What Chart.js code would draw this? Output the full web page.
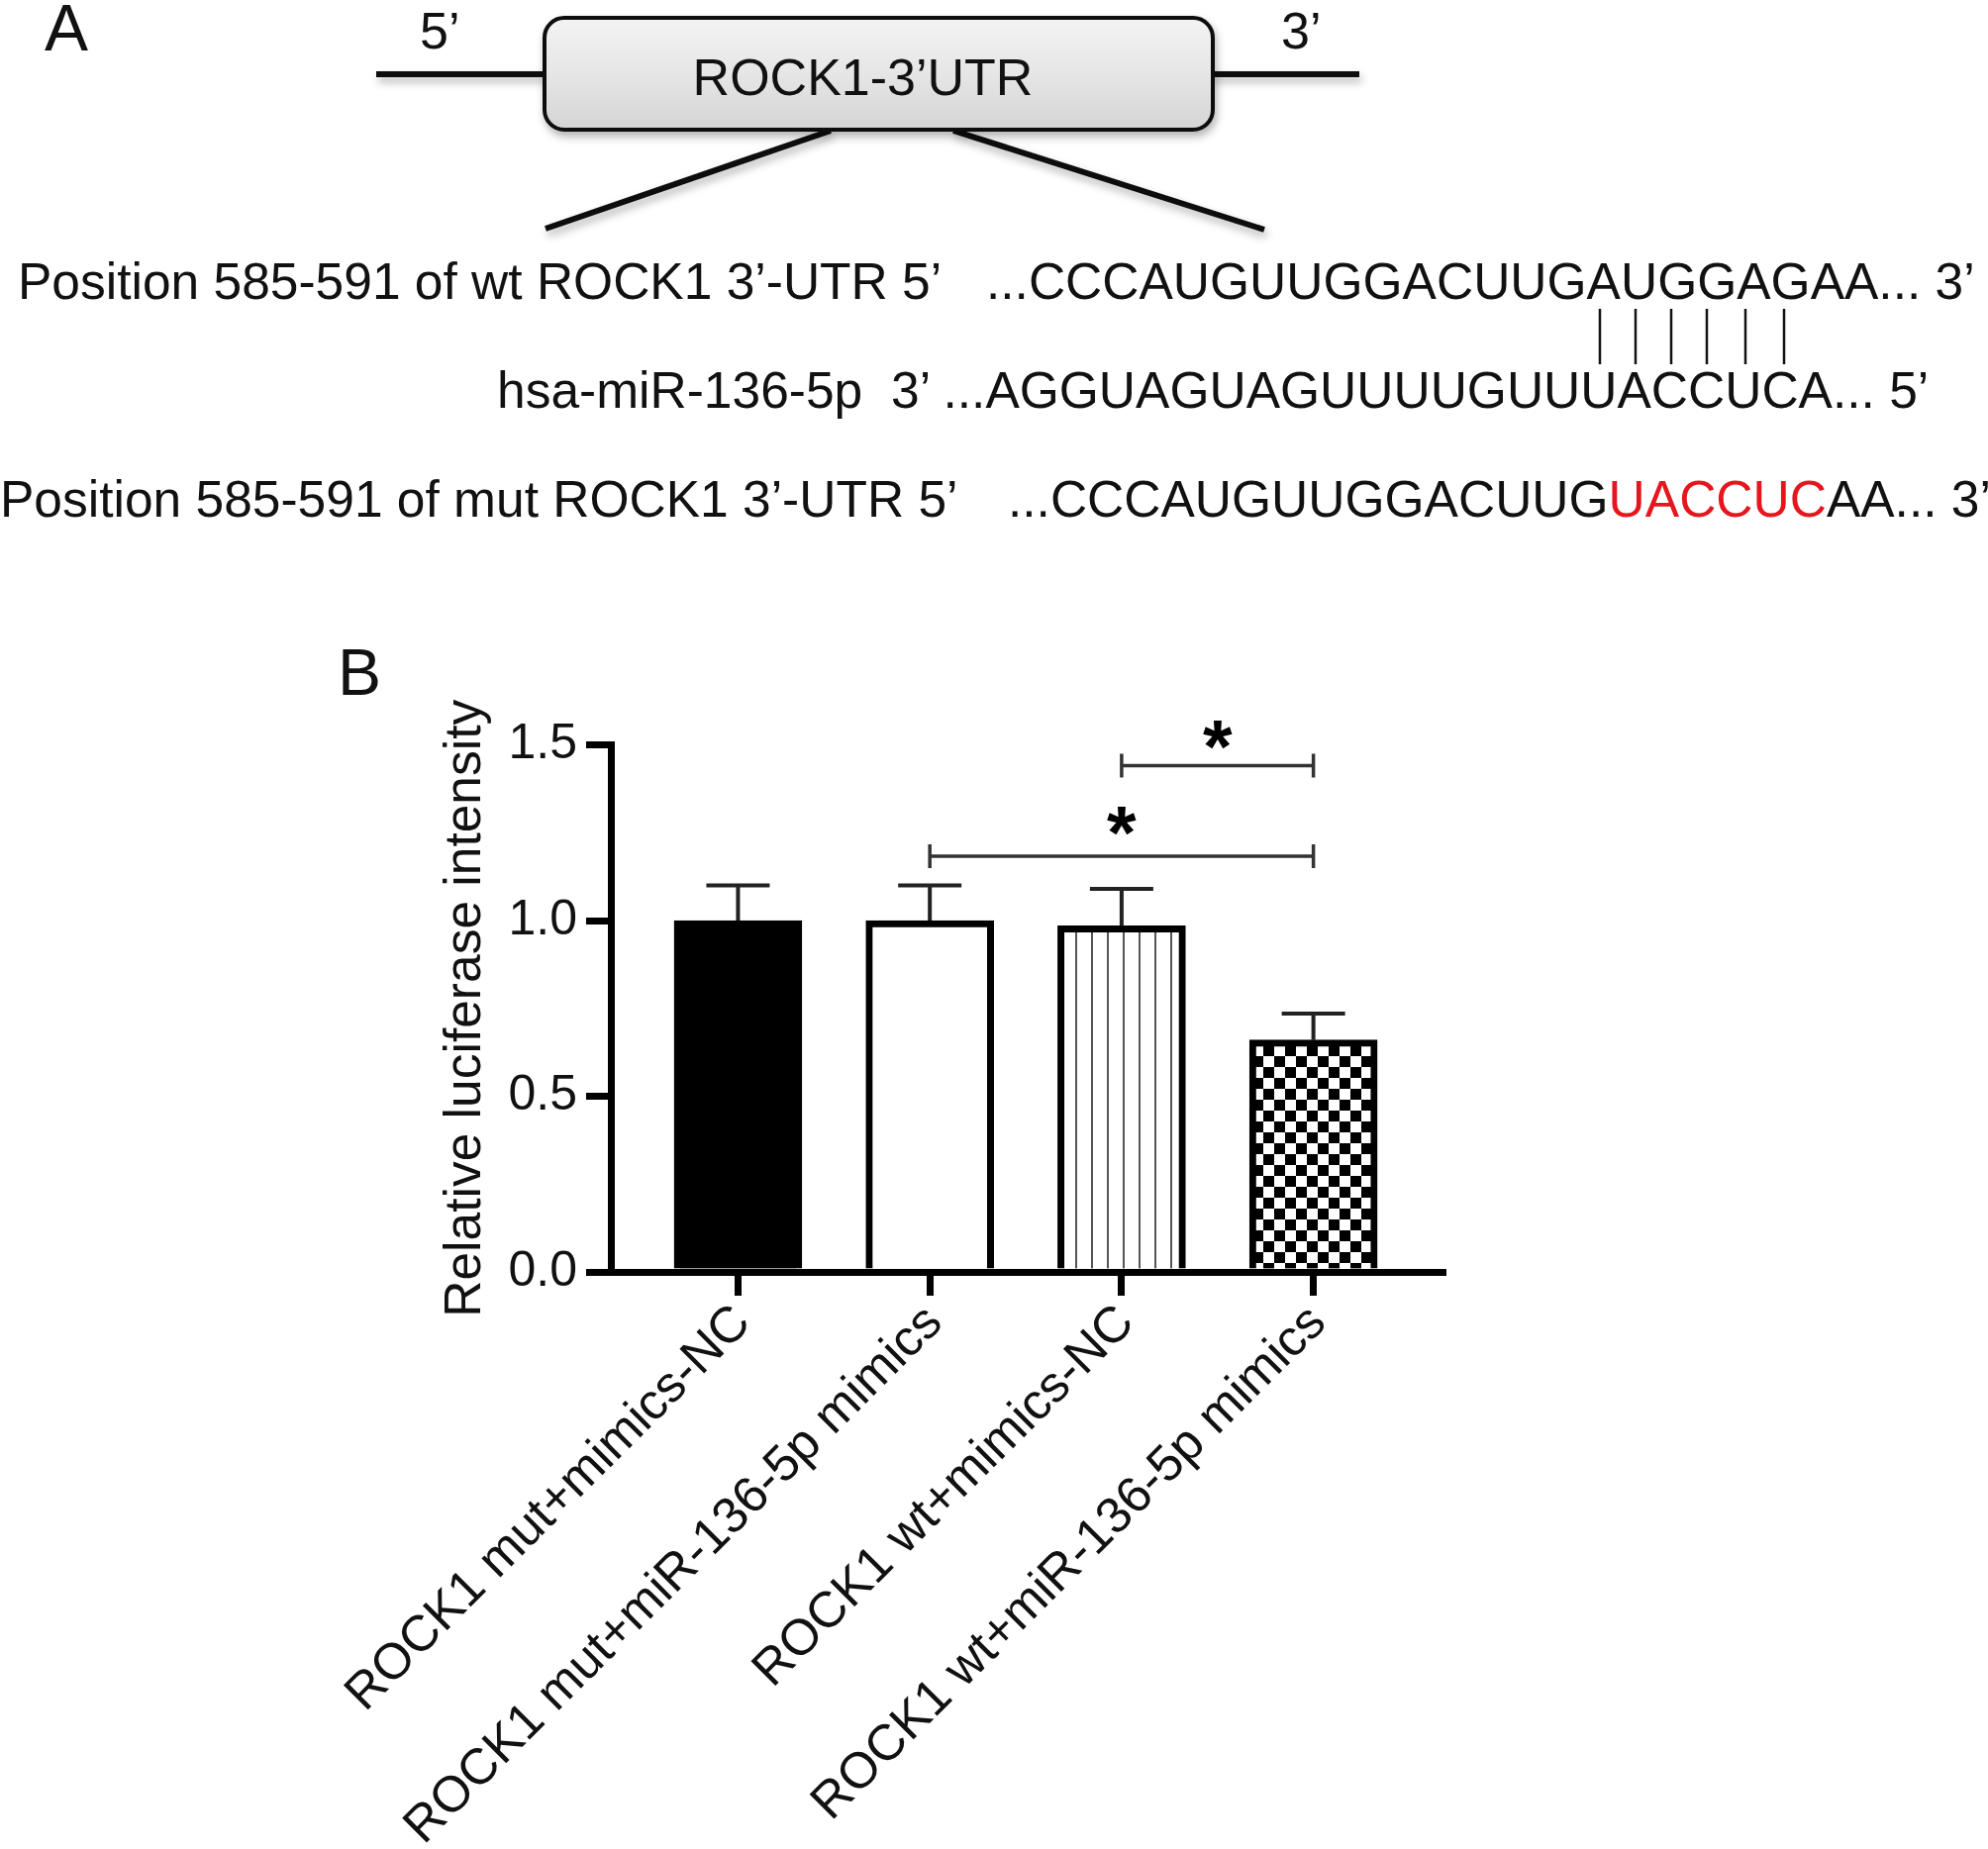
<!DOCTYPE html>
<html>
<head>
<meta charset="utf-8">
<script src="https://cdn.jsdelivr.net/npm/chart.js@4.4.0/dist/chart.umd.min.js"></script>
<style>
  html, body { margin: 0; padding: 0; background: #fff; overflow: hidden; }
  #wrap { position: relative; width: 2008px; height: 1868px; }
  #chart { position: absolute; left: 0; top: 0; }
  #panelA { position: absolute; left: 0; top: 0; pointer-events: none; }
  svg text { font-family: "Liberation Sans", Arial, sans-serif; fill: #111; }
</style>
</head>
<body>
<div id="wrap">
<canvas id="chart" width="2008" height="1868"></canvas>
<svg id="panelA" width="2008" height="1868">
  <defs>
    <linearGradient id="boxFill" x1="0" y1="0" x2="0" y2="1">
      <stop offset="0" stop-color="#f3f3f3"/>
      <stop offset="0.5" stop-color="#e6e6e6"/>
      <stop offset="1" stop-color="#d4d4d4"/>
    </linearGradient>
    <filter id="shadow" x="-10%" y="-30%" width="120%" height="170%">
      <feDropShadow dx="2" dy="5" stdDeviation="4" flood-color="#000" flood-opacity="0.3"/>
    </filter>
  </defs>
  <text x="45" y="51" font-size="66">A</text>
  <g stroke="#111" stroke-width="6" fill="none" filter="url(#shadow)">
    <line x1="380" y1="75" x2="552" y2="75"/>
    <line x1="1223" y1="75" x2="1373" y2="75"/>
    <line x1="839" y1="132" x2="551" y2="231"/>
    <line x1="963" y1="132" x2="1277" y2="232"/>
  </g>
  <rect x="550" y="18" width="675" height="113" rx="20" fill="url(#boxFill)" stroke="#111" stroke-width="4" filter="url(#shadow)"/>
  <text x="871.5" y="96" font-size="52" text-anchor="middle">ROCK1-3’UTR</text>
  <text x="424" y="49" font-size="52">5’</text>
  <text x="1294" y="49" font-size="52">3’</text>

  <text x="18" y="302" font-size="51.5">Position 585-591 of wt ROCK1 3’-UTR 5’</text>
  <text x="996" y="302" font-size="51.5">...CCCAUGUUGGACUUGAUGGAGAA... 3’</text>
  <g stroke="#111" stroke-width="2.5">
    <line x1="1616" y1="312" x2="1616" y2="368"/>
    <line x1="1652" y1="312" x2="1652" y2="368"/>
    <line x1="1688" y1="312" x2="1688" y2="368"/>
    <line x1="1724" y1="312" x2="1724" y2="368"/>
    <line x1="1763" y1="312" x2="1763" y2="368"/>
    <line x1="1802" y1="312" x2="1802" y2="368"/>
  </g>
  <text x="502" y="412" font-size="51.5">hsa-miR-136-5p</text>
  <text x="900" y="412" font-size="51.5">3’ ...AGGUAGUAGUUUUGUUUACCUCA... 5’</text>
  <text x="0" y="522" font-size="51.5">Position 585-591 of mut ROCK1 3’-UTR 5’</text>
  <text x="1018" y="522" font-size="51.5">...CCCAUGUUGGACUUG<tspan style="fill:#e5161d">UACCUC</tspan>AA... 3’</text>

  <text x="341" y="702" font-size="66">B</text>
</svg>
</div>
<script>
// bar chart data (panel B)
const categories = ['ROCK1 mut+mimics-NC', 'ROCK1 mut+miR-136-5p mimics', 'ROCK1 wt+mimics-NC', 'ROCK1 wt+miR-136-5p mimics'];
const meanValues = [1.00, 1.00, 0.985, 0.66];
const errorValues = [0.10, 0.10, 0.105, 0.075];
const yTicks = [0, 0.5, 1.0, 1.5];

// significance brackets: from bar, to bar, bracket height, star height
const sigFrom = [2, 1];
const sigTo = [3, 3];
const sigLevel = [1.441, 1.183];
const sigStarLevel = [1.545, 1.30];
const sigText = ['*', '*'];

const FONT = '"Liberation Sans", Arial, sans-serif';
const canvas = document.getElementById('chart');
const cctx = canvas.getContext('2d');

function stripePattern() {
  const c = document.createElement('canvas');
  c.width = 16; c.height = 16;
  const g = c.getContext('2d');
  g.fillStyle = '#fff'; g.fillRect(0, 0, 16, 16);
  g.fillStyle = '#555'; g.fillRect(14, 0, 2, 16);
  return cctx.createPattern(c, 'repeat');
}
function checkerPattern() {
  const c = document.createElement('canvas');
  c.width = 22; c.height = 22;
  const g = c.getContext('2d');
  g.fillStyle = '#fff'; g.fillRect(0, 0, 22, 22);
  g.fillStyle = '#000';
  g.fillRect(0, 0, 11, 11);
  g.fillRect(11, 11, 11, 11);
  return cctx.createPattern(c, 'repeat');
}

const errorBars = {
  id: 'errorBars',
  afterDatasetsDraw(chart) {
    const { ctx, scales: { x, y } } = chart;
    ctx.save();
    ctx.strokeStyle = '#222';
    ctx.lineWidth = 4;
    meanValues.forEach((v, i) => {
      const px = x.getPixelForValue(i);
      const top = y.getPixelForValue(v);
      const end = y.getPixelForValue(v + errorValues[i]);
      ctx.beginPath();
      ctx.moveTo(px, top); ctx.lineTo(px, end);
      ctx.moveTo(px - 32, end); ctx.lineTo(px + 32, end);
      ctx.stroke();
    });
    ctx.restore();
  }
};

const sigBars = {
  id: 'sigBars',
  afterDatasetsDraw(chart) {
    const { ctx, scales: { x, y } } = chart;
    ctx.save();
    ctx.strokeStyle = '#333';
    ctx.lineWidth = 3.5;
    ctx.fillStyle = '#000';
    ctx.font = 'bold 76px ' + FONT;
    ctx.textAlign = 'center';
    ctx.textBaseline = 'alphabetic';
    sigFrom.forEach((f, i) => {
      const x1 = x.getPixelForValue(f);
      const x2 = x.getPixelForValue(sigTo[i]);
      const py = y.getPixelForValue(sigLevel[i]);
      ctx.beginPath();
      ctx.moveTo(x1, py); ctx.lineTo(x2, py);
      ctx.moveTo(x1, py - 12); ctx.lineTo(x1, py + 12);
      ctx.moveTo(x2, py - 12); ctx.lineTo(x2, py + 12);
      ctx.stroke();
      ctx.fillText(sigText[i], (x1 + x2) / 2, y.getPixelForValue(sigStarLevel[i]) + 43);
    });
    ctx.restore();
  }
};

new Chart(canvas, {
  type: 'bar',
  data: {
    datasets: [{
      data: meanValues.map((v, i) => ({ x: i, y: v })),
      backgroundColor: ['#000', '#fff', stripePattern(), checkerPattern()],
      borderColor: '#000',
      borderWidth: 7,
      barThickness: 129
    }]
  },
  options: {
    responsive: false,
    animation: false,
    devicePixelRatio: 1,
    layout: { padding: { left: 440, top: 752.5, right: 551, bottom: 0 } },
    plugins: { legend: { display: false }, tooltip: { enabled: false } },
    scales: {
      x: {
        type: 'linear',
        min: -0.663,
        max: 3.673,
        offset: false,
        grid: { offset: false, drawOnChartArea: false, drawTicks: true, tickLength: 24, tickWidth: 7, lineWidth: 7, color: '#000' },
        border: { display: true, color: '#000', width: 7 },
        ticks: {
          stepSize: 1,
          includeBounds: false,
          autoSkip: false,
          minRotation: 45,
          maxRotation: 45,
          padding: 6,
          labelOffset: 5,
          color: '#111',
          font: { family: FONT, size: 51, lineHeight: 0.75 },
          callback: v => (Number.isInteger(v) && categories[v]) ? categories[v] : ''
        },
        afterFit: s => { s.height = 583; }
      },
      y: {
        min: yTicks[0],
        max: yTicks[yTicks.length - 1],
        afterBuildTicks: s => { s.ticks = yTicks.map(v => ({ value: v })); },
        grid: { drawOnChartArea: false, drawTicks: true, tickLength: 25, tickWidth: 7, lineWidth: 7, color: '#000' },
        border: { display: true, color: '#000', width: 7 },
        ticks: {
          padding: 9,
          color: '#111',
          font: { family: FONT, size: 50 },
          callback: v => v.toFixed(1)
        },
        title: {
          display: true,
          text: 'Relative luciferase intensity',
          color: '#111',
          padding: 0,
          font: { family: FONT, size: 51.5 }
        },
        afterFit: s => { s.width = 177; }
      }
    }
  },
  plugins: [errorBars, sigBars]
});
</script>
</body>
</html>
